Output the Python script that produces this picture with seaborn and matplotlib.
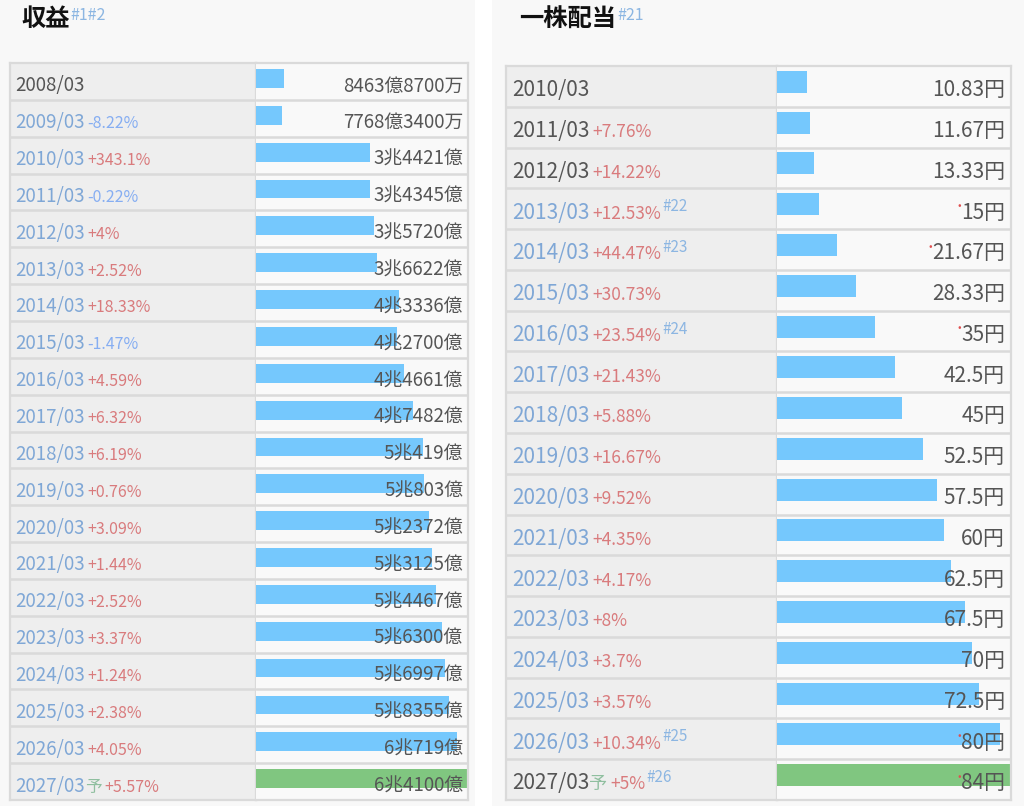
import matplotlib
matplotlib.use("Agg")
import matplotlib.pyplot as plt
import seaborn as sns
from matplotlib.transforms import offset_copy

sns.set_style("white")
plt.rcParams['font.family'] = ['Noto Sans CJK JP', 'DejaVu Sans']

W, H = 1024, 806

# --- data: revenue (left panel) ---
rev_years = ["2008/03", "2009/03", "2010/03", "2011/03", "2012/03", "2013/03", "2014/03",
             "2015/03", "2016/03", "2017/03", "2018/03", "2019/03", "2020/03", "2021/03",
             "2022/03", "2023/03", "2024/03", "2025/03", "2026/03", "2027/03"]
rev_oku = [8463.87, 7768.34, 34421, 34345, 35720, 36622, 43336, 42700, 44661, 47482,
           50419, 50803, 52372, 53125, 54467, 56300, 56997, 58355, 60719, 64100]
rev_text = ["8463億8700万", "7768億3400万", "3兆4421億", "3兆4345億", "3兆5720億", "3兆6622億",
            "4兆3336億", "4兆2700億", "4兆4661億", "4兆7482億", "5兆419億", "5兆803億",
            "5兆2372億", "5兆3125億", "5兆4467億", "5兆6300億", "5兆6997億", "5兆8355億",
            "6兆719億", "6兆4100億"]
rev_pct = ["", "-8.22%", "+343.1%", "-0.22%", "+4%", "+2.52%", "+18.33%", "-1.47%", "+4.59%",
           "+6.32%", "+6.19%", "+0.76%", "+3.09%", "+1.44%", "+2.52%", "+3.37%", "+1.24%",
           "+2.38%", "+4.05%", "+5.57%"]
rev_dark = ["2008/03"]
rev_notes = {}

# --- data: dividend per share (right panel) ---
div_years = ["2010/03", "2011/03", "2012/03", "2013/03", "2014/03", "2015/03", "2016/03",
             "2017/03", "2018/03", "2019/03", "2020/03", "2021/03", "2022/03", "2023/03",
             "2024/03", "2025/03", "2026/03", "2027/03"]
div_yen = [10.83, 11.67, 13.33, 15, 21.67, 28.33, 35, 42.5, 45, 52.5, 57.5, 60, 62.5, 67.5,
           70, 72.5, 80, 84]
div_text = ["10.83円", "11.67円", "13.33円", "15円", "21.67円", "28.33円", "35円", "42.5円",
            "45円", "52.5円", "57.5円", "60円", "62.5円", "67.5円", "70円", "72.5円", "80円", "84円"]
div_pct = ["", "+7.76%", "+14.22%", "+12.53%", "+44.47%", "+30.73%", "+23.54%", "+21.43%",
           "+5.88%", "+16.67%", "+9.52%", "+4.35%", "+4.17%", "+8%", "+3.7%", "+3.57%",
           "+10.34%", "+5%"]
div_dark = ["2010/03", "2011/03", "2012/03", "2027/03"]
div_notes = {"2013/03": "#22", "2014/03": "#23", "2016/03": "#24", "2026/03": "#25", "2027/03": "#26"}
div_marked = ["2013/03", "2014/03", "2016/03", "2026/03", "2027/03"]

BLUE_BAR = "#75c8fd"
GREEN_BAR = "#80c680"
LINE = "#dadada"
TXT = "#555555"
YEAR_BLUE = "#7fa7d6"
POS = "#d97b7d"
NEG = "#86aef2"
NOTE = "#8cb6e2"
YOSOKU = "#8fbf9f"


def px_rect(x0, y0, x1, y1):
    return [x0 / W, 1 - y1 / H, (x1 - x0) / W, (y1 - y0) / H]


fig = plt.figure(figsize=(W / 100, H / 100), dpi=100, facecolor="white")
renderer = fig.canvas.get_renderer()

for bx0, bx1 in [(0, 475), (492, 1024)]:
    bg = fig.add_axes(px_rect(bx0, 0, bx1, H))
    bg.set_facecolor("#f8f8f8")
    bg.set_xticks([])
    bg.set_yticks([])
    for s in bg.spines.values():
        s.set_visible(False)


def after(prev, ax, s, gap, **kw):
    # place a text right after the previous one, on the same baseline
    bb = prev.get_window_extent(renderer)
    tr = prev.get_transform()
    x, _ = tr.inverted().transform((bb.x1 + gap, bb.y0))
    return ax.text(x, prev.get_position()[1], s, transform=tr, **kw)


def draw_panel(x0, xdiv, x1, y0, y1, years, vals, texts, pcts, dark, notes, marked,
               top, bar_h, base, fs, pfs, pad, title, title_sup, tx, ty):
    n = len(years)
    lo, hi = n - top, -top

    lab = fig.add_axes(px_rect(x0, y0, xdiv, y1))
    lab.set_facecolor("#eeeeee")
    lab.set_xlim(0, xdiv - x0)
    lab.set_ylim(lo, hi)

    bar = fig.add_axes(px_rect(xdiv, y0, x1, y1))
    bar.set_facecolor("#f9f9f9")
    colors = [BLUE_BAR] * (n - 1) + [GREEN_BAR]
    sns.barplot(x=vals, y=years, hue=years, palette=colors, orient="h", width=bar_h,
                saturation=1, legend=False, linewidth=0, ax=bar)
    bar.set_xlim(0, max(vals))
    bar.set_ylim(lo, hi)

    for ax in (lab, bar):
        ax.set_xticks([])
        ax.set_yticks([])
        ax.set_xlabel("")
        ax.set_ylabel("")
        for s in ax.spines.values():
            s.set_color(LINE)
            s.set_linewidth(1.6)
        for i in range(n - 1):
            ax.axhline(i + 1 - top, color=LINE, lw=1.8, zorder=0.5)
    bar.spines["left"].set_visible(False)

    for i, yr in enumerate(years):
        yb = i - top + base
        t = lab.text(pad, yb, yr, fontsize=fs, va="baseline", ha="left",
                     color=TXT if yr in dark else YEAR_BLUE)
        if i == n - 1:
            t = after(t, lab, "予", 0, fontsize=pfs + 0.5, va="baseline", color=YOSOKU)
        if pcts[i]:
            t = after(t, lab, pcts[i], 3, fontsize=pfs, va="baseline",
                      color=NEG if pcts[i].startswith("-") else POS)
        if yr in notes:
            bb = t.get_window_extent(renderer)
            nx, _ = lab.transData.inverted().transform((bb.x1 + 1, bb.y0))
            lab.text(nx, yb, notes[yr], fontsize=pfs - 1.5, va="baseline", ha="left", color=NOTE,
                     transform=offset_copy(lab.transData, fig=fig, y=pfs * 0.42, units="points"))

        v = bar.text(1 - pad / (x1 - xdiv), yb, texts[i], fontsize=fs, va="baseline", ha="right",
                     color=TXT, transform=bar.get_yaxis_transform())
        if yr in marked:
            bb = v.get_window_extent(renderer)
            mx, _ = bar.transData.inverted().transform((bb.x0 - 2, bb.y0))
            bar.text(mx, yb, "•", fontsize=7.5, color="#e05050", ha="center", va="center",
                     transform=offset_copy(bar.transData, fig=fig, y=fs * 0.6, units="points"))

    tt = fig.text(tx / W, 1 - ty / H, title, fontsize=17.5, fontweight="bold", color="#111111",
                  va="center", ha="left")
    bb = tt.get_window_extent(renderer)
    fig.text((bb.x1 + 1) / W, (bb.y1 - 8) / H, title_sup, fontsize=11.5, color=NOTE,
             va="center", ha="left")


draw_panel(10, 256, 468, 63, 800, rev_years, rev_oku, rev_text, rev_pct, rev_dark, rev_notes, [],
           top=0.42, bar_h=0.51, base=0.77, fs=13.5, pfs=11.5, pad=5,
           title="収益", title_sup="#1#2", tx=21, ty=19)
draw_panel(506, 777, 1011, 66, 800, div_years, div_yen, div_text, div_pct, div_dark, div_notes,
           div_marked, top=0.39, bar_h=0.54, base=0.74, fs=15, pfs=12.5, pad=6,
           title="一株配当", title_sup="#21", tx=519, ty=20)

fig.savefig("out.png", dpi=100, facecolor=fig.get_facecolor())
